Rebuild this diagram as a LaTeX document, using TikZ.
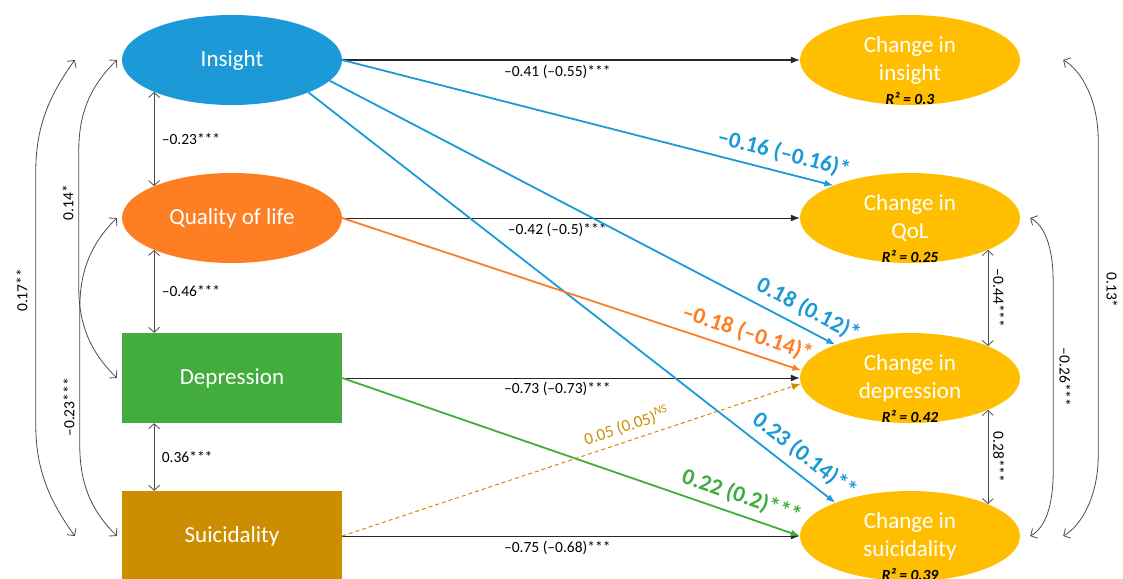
\documentclass[tikz,border=0pt]{standalone}
\usepackage{fontspec}
\setmainfont{Carlito}
\usetikzlibrary{arrows.meta}
\usetikzlibrary{shapes.geometric}
\usetikzlibrary{calc}

\definecolor{insblue}{RGB}{27,154,215}
\definecolor{qolorange}{RGB}{253,126,35}
\definecolor{depgreen}{RGB}{66,172,61}
\definecolor{suigold}{RGB}{204,142,0}
\definecolor{chgyellow}{RGB}{255,191,0}
\definecolor{pathgrey}{RGB}{40,40,40}

\tikzset{
  pred/.style={ellipse,minimum width=220pt,minimum height=90pt,inner sep=0pt,text=white,font=\fontsize{23}{28}\selectfont},
  predbox/.style={rectangle,minimum width=220pt,minimum height=90pt,inner sep=0pt,text=white,font=\fontsize{23}{28}\selectfont},
  outc/.style={pred,fill=chgyellow,align=center},
  rsq/.style={font=\fontsize{15.5}{17}\selectfont\bfseries\itshape,text=black,inner sep=0pt},
  coef/.style={font=\fontsize{15.5}{17}\selectfont,text=black},
  bigcoef/.style={font=\fontsize{23}{25}\selectfont\bfseries,sloped,above=4pt},
  lagpath/.style={->,line width=1.8pt},
  corr/.style={draw=black!70,line width=0.8pt,{Straight Barb[length=5pt,width=11pt]}-{Straight Barb[length=5pt,width=11pt]}},
}

\begin{document}
\begin{tikzpicture}[x=1pt,y=-1pt,>={Latex[length=9pt,width=7pt]}]
\useasboundingbox (0,0) rectangle (1123,578);
% predictors
\draw node [pred,fill=insblue] (ins) at (232,60) {Insight};
\draw node [pred,fill=qolorange] (qol) at (232,218) {Quality of life};
\draw node [predbox,fill=depgreen] (dep) at (232,378) {Depression};
\draw node [predbox,fill=suigold] (sui) at (232,536) {Suicidality};
% outcomes
\draw node [outc] (cins) at (910,60) {Change in\\insight};
\draw node [outc] (cqol) at (910,218) {Change in\\QoL};
\draw node [outc] (cdep) at (910,378) {Change in\\depression};
\draw node [outc] (csui) at (910,536) {Change in\\suicidality};
\draw node [rsq] (rins) at ([yshift=7pt]cins.south) {R² = 0.3};
\draw node [rsq] (rqol) at ([yshift=7pt]cqol.south) {R² = 0.25};
\draw node [rsq] (rdep) at ([yshift=7pt]cdep.south) {R² = 0.42};
\draw node [rsq] (rsui) at ([yshift=7pt]csui.south) {R² = 0.39};

% autoregressive paths
\draw [->,pathgrey,line width=1pt] (ins) -- (cins) node [coef,pos=0.47,below=1pt] {--0.41 (--0.55)***};
\draw [->,pathgrey,line width=1pt] (qol) -- (cqol) node [coef,pos=0.47,below=1pt] {--0.42 (--0.5)***};
\draw [->,pathgrey,line width=1pt] (dep) -- (cdep) node [coef,pos=0.47,below=0pt] {--0.73 (--0.73)***};
\draw [->,pathgrey,line width=1pt] (sui) -- (csui) node [coef,pos=0.47,below=1pt] {--0.75 (--0.68)***};

% cross-lagged paths
\draw [lagpath,insblue] (ins.east) -- (cqol.157) node [bigcoef,pos=0.89] {--0.16 (--0.16)*};
\draw [lagpath,insblue] (ins.-12) -- (cdep.156) node [bigcoef,pos=0.93] {0.18 (0.12)*};
\draw [lagpath,insblue] (ins.-23) -- (csui.156) node [bigcoef,pos=0.92] {0.23 (0.14)**};
\draw [lagpath,qolorange] (qol.east) -- (cdep.176) node [bigcoef,pos=0.87] {--0.18 (--0.14)*};
\draw [lagpath,depgreen] (dep.east) -- (csui.west) node [bigcoef,pos=0.86] {0.22 (0.2)***};
\draw [->,suigold,line width=1pt,dash pattern=on 4pt off 3pt] (sui.east) -- (cdep.183)
  node [sloped,above=3pt,pos=0.63,font=\fontsize{17}{19}\selectfont] {0.05 (0.05)\textsuperscript{\itshape NS}};

% correlations at baseline
\draw [corr] (ins.south west) -- (qol.north west) node [coef,midway,right=4pt] {--0.23***};
\draw [corr] (qol.south west) -- (qol.south west |- dep.north) node [coef,midway,right=4pt] {--0.46***};
\draw [corr] (dep.south -| qol.south west) -- (qol.south west |- sui.north) node [coef,midway,right=4pt] {0.36***};
\draw [corr] ($(ins.west)+(-47,0)$) .. controls +(-20,28) and +(0,-50) .. ($(ins.west)+(-86,110)$)
  -- node [coef,pos=0.47,rotate=90,anchor=south,inner sep=8pt] {0.17**} ($(sui.west)+(-86,-110)$)
  .. controls +(0,50) and +(-20,-28) .. ($(sui.west)+(-47,0)$);
\draw [corr] ($(ins.west)+(-5,0)$) .. controls +(-20,20) and +(0,-45) .. ($(ins.west)+(-43,90)$)
  -- node [coef,pos=0.38,rotate=90,anchor=south,inner sep=5pt] {0.14*} ($(dep.west)+(-43,-90)$)
  .. controls +(0,45) and +(-20,-20) .. ($(dep.west)+(-5,0)$);
\draw [corr] ($(qol.west)+(-5,0)$) .. controls +(-20,20) and +(0,-45) .. ($(qol.west)+(-42,90)$)
  -- node [coef,pos=0.72,rotate=90,anchor=south,inner sep=5pt] {--0.23***} ($(sui.west)+(-42,-90)$)
  .. controls +(0,45) and +(-20,-20) .. ($(sui.west)+(-5,0)$);

% correlations of change
\draw [corr] (cqol.south east) -- (cdep.north east) node [coef,midway,rotate=-90,anchor=south,inner sep=5pt] {--0.44***};
\draw [corr] (cdep.south east) -- (csui.north east) node [coef,midway,rotate=-90,anchor=south,inner sep=5pt] {0.28***};
\draw [corr] ($(cqol.east)+(10,0)$) .. controls +(15,8) and +(0,-35) .. ($(cqol.east)+(33,65)$)
  -- node [coef,midway,rotate=-90,anchor=south,inner sep=6pt] {--0.26***} ($(csui.east)+(33,-65)$)
  .. controls +(0,35) and +(15,-8) .. ($(csui.east)+(10,0)$);
\draw [corr] ($(cins.east)+(43,0)$) .. controls +(18,10) and +(0,-40) .. ($(cins.east)+(78,80)$)
  -- node [coef,pos=0.475,rotate=-90,anchor=south,inner sep=8pt] {0.13*} ($(csui.east)+(78,-80)$)
  .. controls +(0,40) and +(18,-10) .. ($(csui.east)+(43,0)$);
\end{tikzpicture}
\end{document}
